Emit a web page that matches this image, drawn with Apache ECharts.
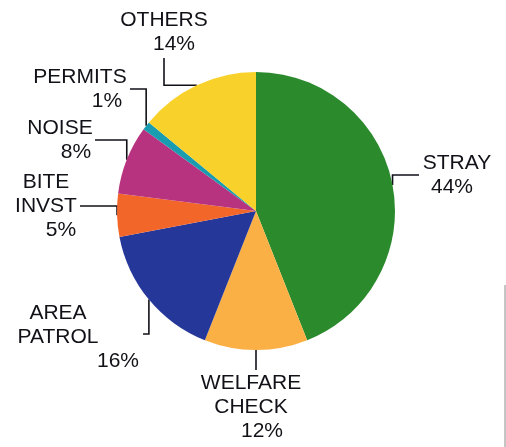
<!DOCTYPE html>
<html>
<head>
<meta charset="utf-8">
<script src="https://cdn.jsdelivr.net/npm/echarts@6/dist/echarts.min.js"></script>
<style>
html,body{margin:0;padding:0;background:#fff;}
#c{width:506px;height:447px;}
</style>
</head>
<body>
<div id="c"></div>
<script>
// ---- data ----
const categories = ['STRAY', 'WELFARE\nCHECK', 'AREA\nPATROL', 'BITE\nINVST', 'NOISE', 'PERMITS', 'OTHERS'];
const values = [44, 12, 16, 5, 8, 1, 14];

// ---- styles / layout ----
const colors = ['#2a8a2c', '#fbb045', '#26379a', '#f3662a', '#b8337f', '#1a9cb0', '#f8d22a'];
const labelLayouts = [
  { x: 457, y: 151, shift: -5, mode: 'v', endX: 419, endY: 175 },
  { x: 251, y: 371, shift: 11, mode: 'v', endX: null, endY: 370 },
  { x: 58,  y: 301, shift: 60, mode: 'v', endX: 143, endY: 334 },
  { x: 46,  y: 170, shift: 15, mode: 'v', endX: 80,  endY: 206 },
  { x: 60,  y: 116, shift: 16, mode: 'v', endX: 95,  endY: 140 },
  { x: 80,  y: 65,  shift: 27, mode: 'v', endX: 130, endY: 89 },
  { x: 164, y: 8,   shift: 10, mode: 'h', endX: 164, endY: 58 }
];
const baseText = { fontSize: 21, fontFamily: 'Liberation Sans, Arial, sans-serif', color: '#111118', lineHeight: 24, align: 'center' };

const chart = echarts.init(document.getElementById('c'), null, { renderer: 'canvas' });

const data = categories.map((name, i) => {
  const s = labelLayouts[i].shift;
  const pad = s >= 0 ? [0, 0, 0, 2 * s] : [0, -2 * s, 0, 0];
  return {
    name: name,
    value: values[i],
    itemStyle: { color: colors[i] },
    label: {
      rich: {
        n: Object.assign({}, baseText),
        p: Object.assign({}, baseText, { padding: pad })
      }
    }
  };
});

chart.setOption({
  backgroundColor: '#ffffff',
  animation: false,
  graphic: [{
    type: 'line',
    shape: { x1: 505, y1: 285, x2: 505, y2: 447 },
    style: { stroke: '#8a8a8a', lineWidth: 1 }
  }],
  series: [{
    type: 'pie',
    center: [256, 211],
    radius: 139,
    startAngle: 90,
    clockwise: true,
    avoidLabelOverlap: false,
    minShowLabelAngle: 0,
    itemStyle: { borderWidth: 0 },
    label: {
      show: true,
      position: 'outside',
      formatter: function (p) {
        const lines = p.name.split('\n').map(l => '{n|' + l + '}');
        lines.push('{p|' + p.value + '%}');
        return lines.join('\n');
      }
    },
    labelLine: {
      show: true,
      length: 10,
      length2: 10,
      lineStyle: { color: '#111118', width: 1.6 }
    },
    labelLayout: function (params) {
      const L = labelLayouts[params.dataIndex];
      const a = params.labelLinePoints ? params.labelLinePoints[0] : [0, 0];
      let pts;
      if (L.mode === 'v') {
        const ex = L.endX == null ? a[0] : L.endX;
        pts = [[a[0], a[1]], [a[0], L.endY], [ex, L.endY]];
      } else {
        pts = [[a[0], a[1]], [L.endX, a[1]], [L.endX, L.endY]];
      }
      return {
        x: L.x,
        y: L.y,
        align: 'center',
        verticalAlign: 'top',
        labelLinePoints: pts
      };
    },
    emphasis: { disabled: true },
    data: data
  }]
});
</script>
</body>
</html>
